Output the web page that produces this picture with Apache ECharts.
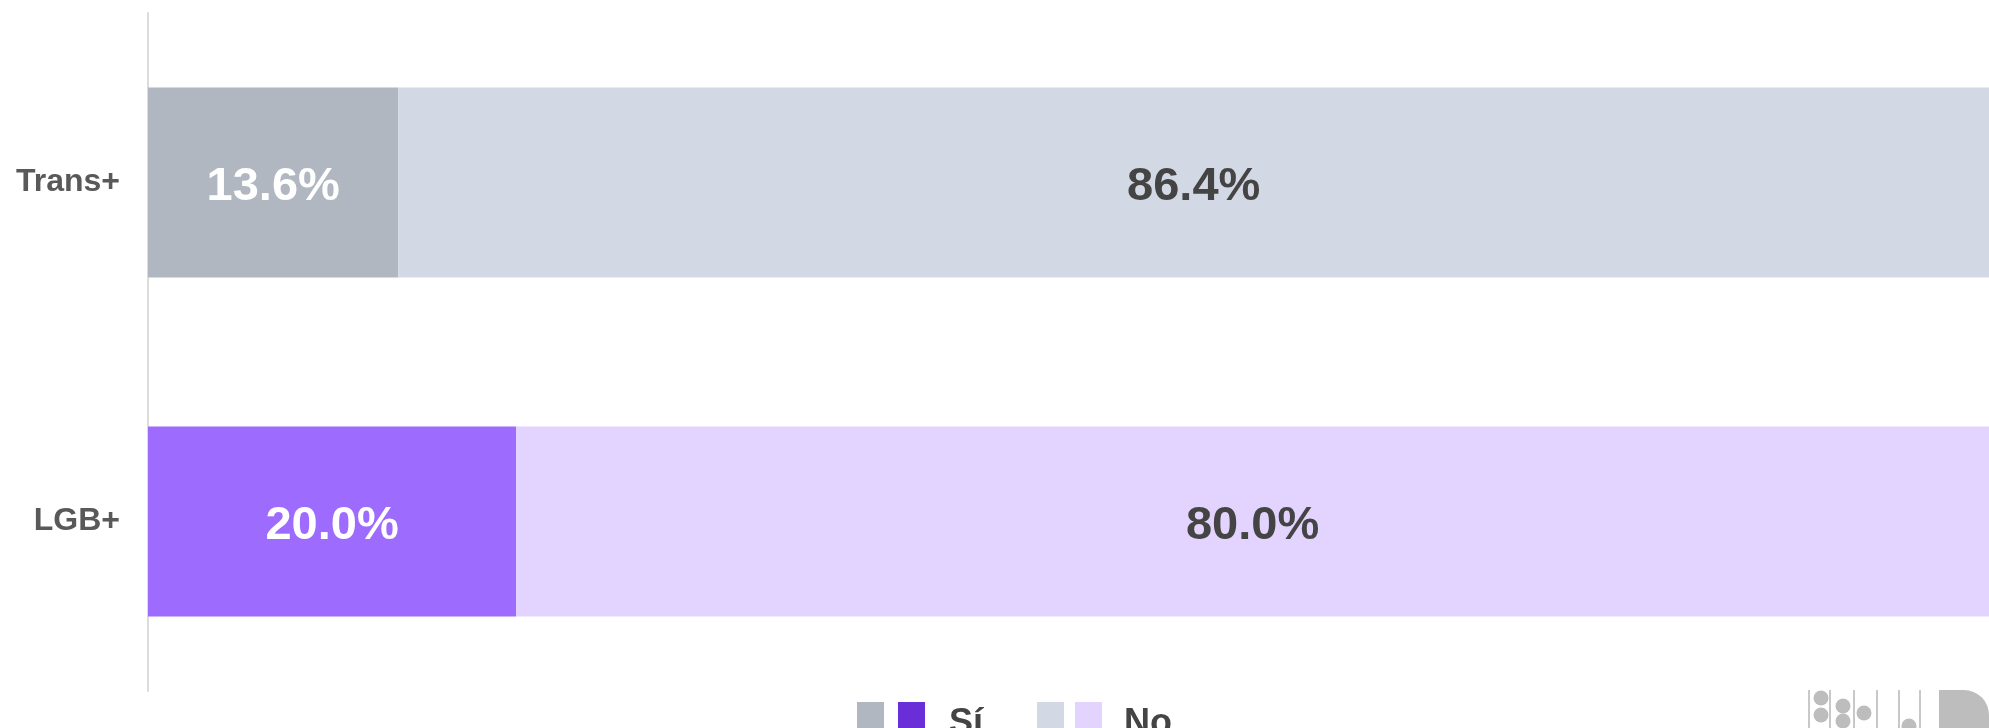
<!DOCTYPE html>
<html>
<head>
<meta charset="utf-8">
<script src="https://cdn.jsdelivr.net/npm/echarts@6/dist/echarts.min.js"></script>
<style>
  html, body { margin: 0; padding: 0; background: #fff; }
  #chart { width: 1989px; height: 728px; }
</style>
</head>
<body>
<div id="chart"></div>
<script>
// datos
const categories = ["Trans+", "LGB+"];
const siValues = [13.6, 20.0];
const noValues = [86.4, 80.0];
const siColors = ["#b0b7c1", "#9e6bff"];
const noColors = ["#d3d9e4", "#e2d3ff"];
const legendSwatches = {
    "Sí": ["#b0b7c1", "#6a2ed8"],
    "No": ["#d3d9e4", "#e2d3ff"]
};

const font = "'Liberation Sans', Arial, sans-serif";
const fmt = (p) => p.value.toFixed(1) + "%";
const swatch = (c) => ({ width: 27, height: 27, backgroundColor: c, verticalAlign: "middle" });
const legendText = (padLeft) => ({
    padding: [18, 0, 0, padLeft],
    fontFamily: font,
    fontWeight: "bold",
    fontSize: 36,
    color: "#444",
    height: 27,
    lineHeight: 27,
    verticalAlign: "middle"
});

const chart = echarts.init(document.getElementById("chart"), null, { renderer: "canvas" });

chart.setOption({
    animation: false,
    backgroundColor: "#fff",
    grid: { left: 148, top: 13, width: 1857, height: 678, containLabel: false },
    xAxis: {
        type: "value",
        min: 0,
        max: 100,
        show: false
    },
    yAxis: {
        type: "category",
        data: categories,
        inverse: true,
        axisLine: { show: true, lineStyle: { color: "#dcdcdc", width: 2 } },
        axisTick: { show: false },
        axisLabel: {
            margin: 28,
            color: "#595959",
            fontFamily: font,
            fontWeight: "bold",
            fontSize: 32
        }
    },
    legend: {
        left: 852,
        top: 693,
        padding: 0,
        itemGap: 49,
        itemWidth: 0,
        itemHeight: 0,
        icon: "rect",
        selectedMode: false,
        data: ["Sí", "No"],
        formatter: (name) => name === "Sí"
            ? `{a1|}{g1|}{a2|}{t1|${name}}`
            : `{a3|}{g2|}{a4|}{t2|${name}}`,
        textStyle: {
            rich: {
                a1: swatch(legendSwatches["Sí"][0]),
                a2: swatch(legendSwatches["Sí"][1]),
                a3: swatch(legendSwatches["No"][0]),
                a4: swatch(legendSwatches["No"][1]),
                g1: { width: 14 },
                g2: { width: 11 },
                t1: legendText(24),
                t2: legendText(22)
            }
        }
    },
    series: [
        {
            name: "Sí",
            type: "bar",
            stack: "total",
            barCategoryGap: "44%",
            itemStyle: { color: siColors[0] },
            data: siValues.map((v, i) => ({ value: v, itemStyle: { color: siColors[i] } })),
            label: {
                show: true,
                position: "inside",
                offset: [0, 5],
                formatter: fmt,
                color: "#fff",
                fontFamily: font,
                fontWeight: "bold",
                fontSize: 47
            }
        },
        {
            name: "No",
            type: "bar",
            stack: "total",
            barCategoryGap: "44%",
            itemStyle: { color: noColors[0] },
            data: noValues.map((v, i) => ({ value: v, itemStyle: { color: noColors[i] } })),
            label: {
                show: true,
                position: "inside",
                offset: [0, 5],
                formatter: fmt,
                color: "#444",
                fontFamily: font,
                fontWeight: "bold",
                fontSize: 47
            }
        }
    ],
    // logo en la esquina
    graphic: [
        {
            type: "group",
            left: 1808,
            top: 690,
            silent: true,
            children: [
                { type: "rect", shape: { x: 3, y: 2, width: 2, height: 40 }, style: { fill: "#c8c8c8" } },
                { type: "rect", shape: { x: 24, y: 2, width: 2, height: 40 }, style: { fill: "#c8c8c8" } },
                { type: "rect", shape: { x: 48, y: 2, width: 2, height: 40 }, style: { fill: "#c8c8c8" } },
                { type: "rect", shape: { x: 71, y: 2, width: 2, height: 40 }, style: { fill: "#c8c8c8" } },
                { type: "rect", shape: { x: 93, y: 2, width: 2, height: 40 }, style: { fill: "#c8c8c8" } },
                { type: "rect", shape: { x: 114, y: 2, width: 2, height: 40 }, style: { fill: "#c8c8c8" } },
                { type: "circle", shape: { cx: 16, cy: 10, r: 7.5 }, style: { fill: "#bdbdbd" } },
                { type: "circle", shape: { cx: 16, cy: 27, r: 7.5 }, style: { fill: "#bdbdbd" } },
                { type: "circle", shape: { cx: 38, cy: 18, r: 7.5 }, style: { fill: "#bdbdbd" } },
                { type: "circle", shape: { cx: 38, cy: 33, r: 7.5 }, style: { fill: "#bdbdbd" } },
                { type: "circle", shape: { cx: 59, cy: 25, r: 7.5 }, style: { fill: "#bdbdbd" } },
                { type: "circle", shape: { cx: 104, cy: 38, r: 7.5 }, style: { fill: "#bdbdbd" } },
                { type: "rect", shape: { x: 134, y: 2, width: 25, height: 40 }, style: { fill: "#bdbdbd" } },
                { type: "rect", shape: { x: 159, y: 2, width: 25, height: 40, r: [0, 25, 0, 0] }, style: { fill: "#bdbdbd" } }
            ]
        }
    ]
});
</script>
</body>
</html>
